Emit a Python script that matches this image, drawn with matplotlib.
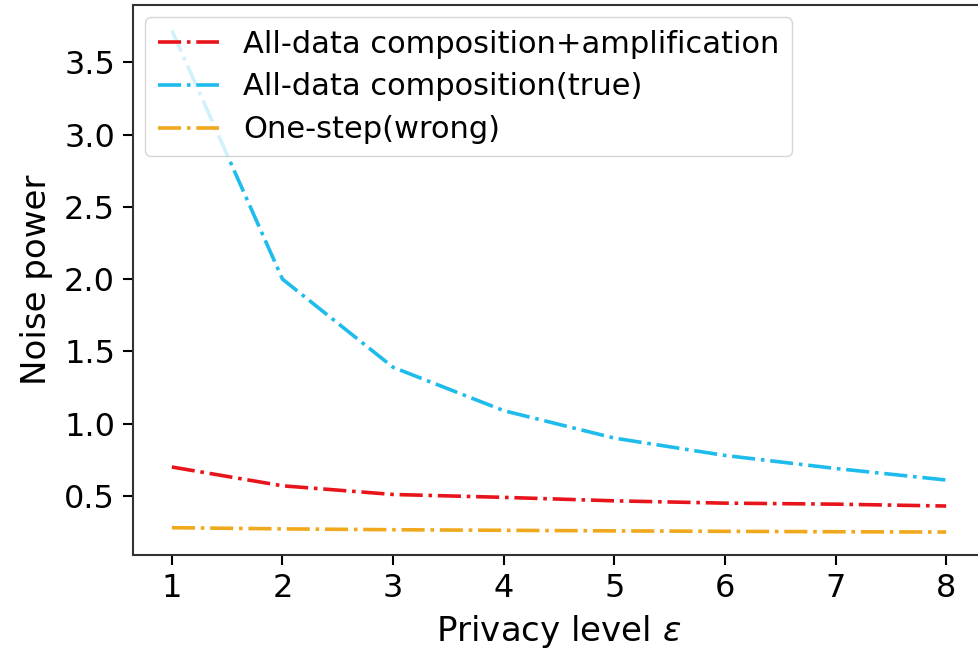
import numpy as np
import matplotlib
matplotlib.use("Agg")
import matplotlib.pyplot as plt

# privacy levels and noise power
eps = [1, 2, 3, 4, 5, 6, 7, 8]
amplification = [0.70, 0.57, 0.51, 0.49, 0.466, 0.45, 0.443, 0.43]
composition_true = [3.72, 2.0, 1.39, 1.09, 0.90, 0.78, 0.69, 0.61]
one_step = [0.28, 0.272, 0.266, 0.262, 0.258, 0.255, 0.252, 0.25]

fig = plt.figure(figsize=(9.79, 6.57), dpi=100)
# right spine falls just outside the picture, as in the reference
ax = fig.add_axes([0.136, 0.155, 0.870, 0.837])

ax.plot(eps, amplification, color="#e8141b", linestyle="-.", linewidth=2.6,
        label="All-data composition+amplification")
ax.plot(eps, composition_true, color="#1ebcec", linestyle="-.", linewidth=2.6,
        label="All-data composition(true)")
ax.plot(eps, one_step, color="#f0a81c", linestyle="-.", linewidth=2.6,
        label="One-step(wrong)")

ax.set_xlim(0.65, 8.35)
ax.set_ylim(0.09, 3.895)
ax.set_xticks(eps)
ax.set_yticks([0.5, 1.0, 1.5, 2.0, 2.5, 3.0, 3.5])
ax.tick_params(labelsize=23, width=1.5, length=7, pad=6)
for s in ax.spines.values():
    s.set_linewidth(1.5)
    s.set_color("#333333")

ax.set_xlabel(r"Privacy level $\epsilon$", fontsize=24.5, labelpad=6)
ax.set_ylabel("Noise power", fontsize=24.5, labelpad=8)
ax.legend(loc="upper left", fontsize=22, handlelength=2.0,
          borderaxespad=0.4, labelspacing=0.45)

fig.savefig("out.png", dpi=100)
